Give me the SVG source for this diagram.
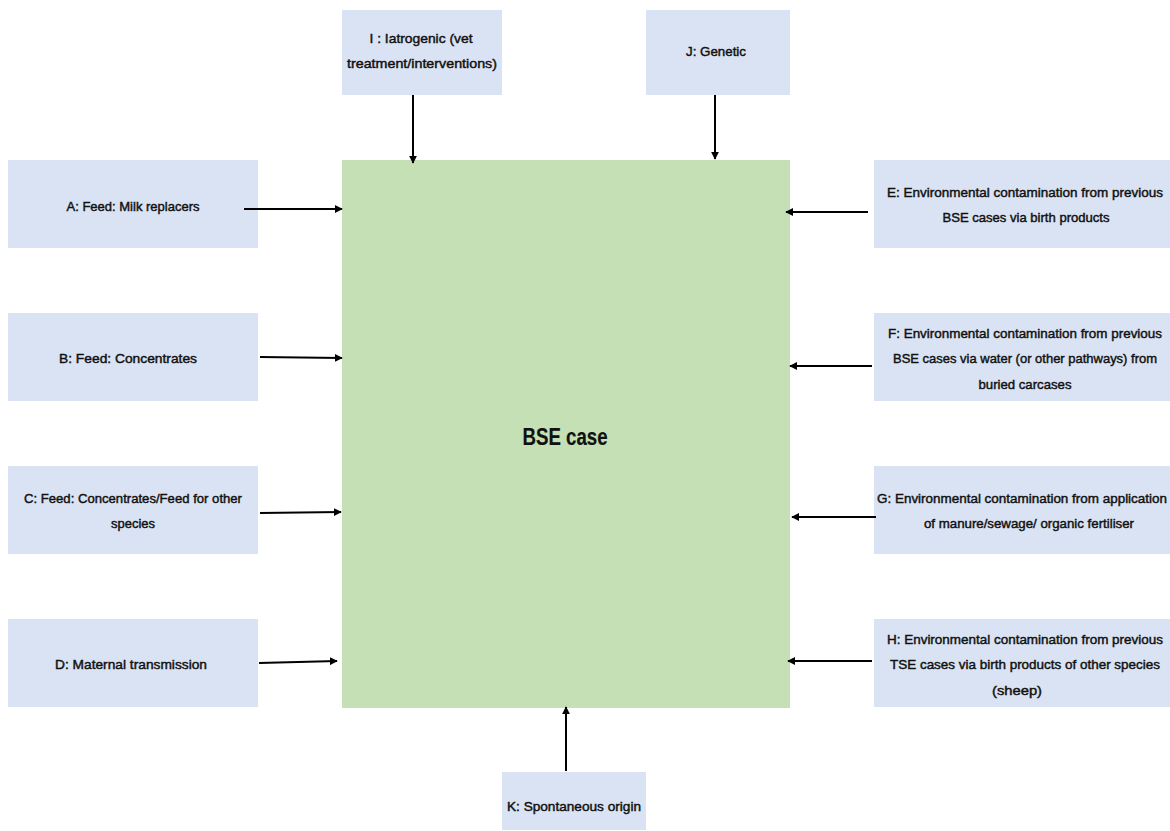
<svg xmlns="http://www.w3.org/2000/svg" width="1170" height="831" viewBox="0 0 1170 831">
<style>
.src{fill:#dae3f3}
.main{fill:#c5e0b4}
text{font-family:"Liberation Sans",Arial,sans-serif;font-size:13.5px;fill:#111;stroke:#111;stroke-width:0.45px;text-anchor:middle}
.big{font-size:24px;font-weight:bold;stroke-width:0.2px}
.con{stroke:#000;stroke-width:2;fill:none;marker-end:url(#ah)}
</style>
<defs>
<marker id="ah" viewBox="0 0 10 10" refX="9" refY="5" markerWidth="4" markerHeight="4" orient="auto" markerUnits="strokeWidth">
<path d="M0,0 L10,5 L0,10 z" fill="#000"/>
</marker>
</defs>
<rect width="1170" height="831" fill="#fff"/>
<g id="bse">
<rect class="main" x="342" y="160" width="448" height="548"/>
<text class="big" x="565" y="445" textLength="85" lengthAdjust="spacingAndGlyphs">BSE case</text>
</g>
<g id="nodeA">
<rect class="src" x="8" y="160" width="250" height="88"/>
<text x="133" y="211" textLength="133" lengthAdjust="spacingAndGlyphs">A: Feed: Milk replacers</text>
</g>
<g id="nodeB">
<rect class="src" x="8" y="313" width="250" height="88"/>
<text x="128" y="363" textLength="138" lengthAdjust="spacingAndGlyphs">B: Feed: Concentrates</text>
</g>
<g id="nodeC">
<rect class="src" x="8" y="466" width="250" height="88"/>
<text x="133" y="503" textLength="218" lengthAdjust="spacingAndGlyphs">C: Feed: Concentrates/Feed for other</text>
<text x="133" y="528" textLength="44" lengthAdjust="spacingAndGlyphs">species</text>
</g>
<g id="nodeD">
<rect class="src" x="8" y="619" width="250" height="88"/>
<text x="131" y="669" textLength="152" lengthAdjust="spacingAndGlyphs">D: Maternal transmission</text>
</g>
<g id="nodeE">
<rect class="src" x="874" y="160" width="296" height="88"/>
<text x="1025" y="197" textLength="276" lengthAdjust="spacingAndGlyphs">E: Environmental contamination from previous</text>
<text x="1026" y="222" textLength="167" lengthAdjust="spacingAndGlyphs">BSE cases via birth products</text>
</g>
<g id="nodeF">
<rect class="src" x="874" y="313" width="296" height="88"/>
<text x="1025" y="338" textLength="274" lengthAdjust="spacingAndGlyphs">F: Environmental contamination from previous</text>
<text x="1025" y="363" textLength="264" lengthAdjust="spacingAndGlyphs">BSE cases via water (or other pathways) from</text>
<text x="1025" y="389" textLength="93" lengthAdjust="spacingAndGlyphs">buried carcases</text>
</g>
<g id="nodeG">
<rect class="src" x="874" y="466" width="296" height="88"/>
<text x="1022" y="503" textLength="290" lengthAdjust="spacingAndGlyphs">G: Environmental contamination from application</text>
<text x="1029" y="528" textLength="210" lengthAdjust="spacingAndGlyphs">of manure/sewage/ organic fertiliser</text>
</g>
<g id="nodeH">
<rect class="src" x="874" y="619" width="296" height="88"/>
<text x="1025" y="644" textLength="276" lengthAdjust="spacingAndGlyphs">H: Environmental contamination from previous</text>
<text x="1025" y="669" textLength="270" lengthAdjust="spacingAndGlyphs">TSE cases via birth products of other species</text>
<text x="1017" y="695" textLength="50" lengthAdjust="spacingAndGlyphs">(sheep)</text>
</g>
<g id="nodeI">
<rect class="src" x="342" y="10" width="160" height="85"/>
<text x="421" y="43" textLength="103" lengthAdjust="spacingAndGlyphs">I : Iatrogenic (vet</text>
<text x="422" y="68" textLength="150" lengthAdjust="spacingAndGlyphs">treatment/interventions)</text>
</g>
<g id="nodeJ">
<rect class="src" x="646" y="10" width="144" height="85"/>
<text x="716" y="56" textLength="60" lengthAdjust="spacingAndGlyphs">J: Genetic</text>
</g>
<g id="nodeK">
<rect class="src" x="502" y="772" width="144" height="58"/>
<text x="574" y="811" textLength="134" lengthAdjust="spacingAndGlyphs">K: Spontaneous origin</text>
</g>
<g id="connectors">
<line class="con" x1="244" y1="209" x2="342" y2="209"/>
<line class="con" x1="260" y1="357" x2="342" y2="358"/>
<line class="con" x1="260" y1="513" x2="341" y2="512"/>
<line class="con" x1="259" y1="663" x2="337" y2="661"/>
<line class="con" x1="868" y1="212" x2="786" y2="212"/>
<line class="con" x1="872" y1="366" x2="790" y2="366"/>
<line class="con" x1="876" y1="517" x2="792" y2="517"/>
<line class="con" x1="872" y1="661" x2="788" y2="661"/>
<line class="con" x1="413" y1="95" x2="413" y2="163"/>
<line class="con" x1="715" y1="95" x2="715" y2="159"/>
<line class="con" x1="566" y1="771" x2="566" y2="707"/>
</g>
</svg>
